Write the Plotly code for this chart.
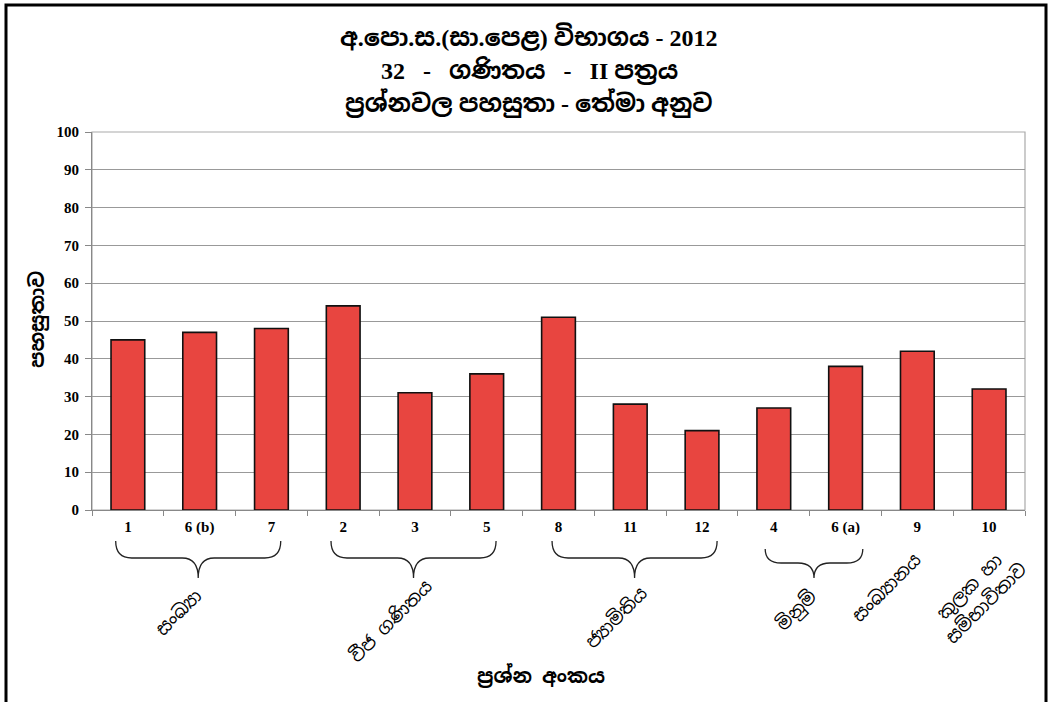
import plotly.graph_objects as go

# ---- data ----
questions = ["1", "6 (b)", "7", "2", "3", "5", "8", "11", "12", "4", "6 (a)", "9", "10"]
facility = [45, 47, 48, 54, 31, 36, 51, 28, 21, 27, 38, 42, 32]
topics = ["සංඛ්‍යා", "වීජ ගණිතය", "ජ්‍යාමිතිය", "මිනුම්", "සංඛ්‍යානය", "කුලක හා<br>සම්භාවිතාව"]
title_lines = ["අ.පො.ස.(සා.පෙළ) විභාගය - 2012",
               "32\u00a0\u00a0 -\u00a0\u00a0 ගණිතය\u00a0\u00a0 -\u00a0\u00a0 II පත්‍රය",
               "ප්‍රශ්නවල පහසුතා - තේමා අනුව"]
y_title = "පහසුතාව"
x_title = "ප්‍රශ්න අංකය"
y_ticks = list(range(0, 101, 10))

# ---- layout geometry (pixels) ----
W, H = 1051, 702
L, R, T, B = 92, 1025, 132, 510
PW, PH = R - L, B - T
N = len(questions)
SIN = "Noto Sans Sinhala, Iskoola Pota, Noto Serif Sinhala, Noto Sans, sans-serif"
TITLE = "Liberation Serif, Noto Sans Sinhala, Iskoola Pota, serif"
SERIF = "Liberation Serif, Times New Roman, serif"


def px(x):
    return (x - L) / PW


def py(y):
    return (B - y) / PH


def cat_px(idx):
    return L + (idx + 0.5) * PW / N


fig = go.Figure()
fig.add_trace(go.Bar(
    x=questions, y=facility,
    marker=dict(color="#E84540", line=dict(color="#111111", width=1.6)),
    width=0.47,
))

shapes = []
# outer frame
shapes.append(dict(type="rect", xref="paper", yref="paper",
                   x0=px(6), x1=px(1046), y0=py(720), y1=py(5),
                   line=dict(color="black", width=3), layer="below"))

# braces: (first idx, last idx, left offset, right offset, top, mid, tip)
braces = [(0, 2, -0.17, 0.13, 541, 558, 578),
          (3, 5, -0.17, 0.13, 541, 558, 578),
          (6, 8, -0.09, 0.21, 541, 558, 578),
          (9, 10, -0.12, 0.24, 549, 563, 578)]
for a, b, d0, d1, top, mid, tip in braces:
    x0 = cat_px(a + d0)
    x1 = cat_px(b + d1)
    xm = (x0 + x1) / 2
    r = 16
    pts = [
        f"M {px(x0)},{py(top)}",
        f"Q {px(x0)},{py(mid)} {px(x0 + r)},{py(mid)}",
        f"L {px(xm - r)},{py(mid)}",
        f"Q {px(xm)},{py(mid)} {px(xm)},{py(tip)}",
        f"Q {px(xm)},{py(mid)} {px(xm + r)},{py(mid)}",
        f"L {px(x1 - r)},{py(mid)}",
        f"Q {px(x1)},{py(mid)} {px(x1)},{py(top)}",
    ]
    shapes.append(dict(type="path", xref="paper", yref="paper",
                       path=" ".join(pts), line=dict(color="#222222", width=1.3)))

annotations = []
# titles
for i, (line, yy) in enumerate(zip(title_lines, [36, 70, 103])):
    annotations.append(dict(text=f"<b>{line}</b>", xref="paper", yref="paper",
                            x=px(529), y=py(yy), showarrow=False,
                            xanchor="center", yanchor="middle",
                            font=dict(family=TITLE, size=24, color="black")))
# topic labels
topic_pos = [(178, 612), (390, 621), (616, 617), (796, 610), (886, 587), (977, 595)]
for t, (xx, yy) in zip(topics, topic_pos):
    annotations.append(dict(text=t, xref="paper", yref="paper", x=px(xx), y=py(yy),
                            showarrow=False, textangle=-45, xanchor="center", yanchor="middle",
                            font=dict(family=SIN, size=18, color="black")))
# axis titles
annotations.append(dict(text=f"<b>{x_title}</b>", xref="paper", yref="paper",
                        x=px(541), y=py(676), showarrow=False,
                        xanchor="center", yanchor="middle",
                        font=dict(family=SIN, size=20, color="black")))
annotations.append(dict(text=f"<b>{y_title}</b>", xref="paper", yref="paper",
                        x=px(37), y=py(320), showarrow=False, textangle=-90,
                        xanchor="center", yanchor="middle",
                        font=dict(family=SIN, size=20, color="black")))

fig.update_layout(
    width=W, height=H,
    margin=dict(l=L, r=W - R, t=T, b=H - B),
    paper_bgcolor="white", plot_bgcolor="white",
    showlegend=False,
    shapes=shapes, annotations=annotations,
    xaxis=dict(
        type="category", tickson="boundaries", ticks="outside", ticklen=5,
        tickcolor="#888888", showline=True, linecolor="#888888", linewidth=1,
        mirror=False, showgrid=False, ticklabelstandoff=3,
        tickfont=dict(family=SERIF, size=15, color="black", weight="bold"),
        tickangle=0,
    ),
    yaxis=dict(
        range=[0, 100], tickvals=y_ticks, ticks="outside", ticklen=6,
        tickcolor="#888888", showline=True, linecolor="#888888", linewidth=1,
        showgrid=True, gridcolor="#999999", gridwidth=1, zeroline=False,
        ticklabelstandoff=3,
        tickfont=dict(family=SERIF, size=15, color="black", weight="bold"),
    ),
)
# light frame on top/right of plot area
fig.add_shape(type="rect", xref="paper", yref="paper", x0=0, x1=1, y0=0, y1=1,
              line=dict(color="#AAAAAA", width=1.2), layer="below")

fig.write_html("out.html")
